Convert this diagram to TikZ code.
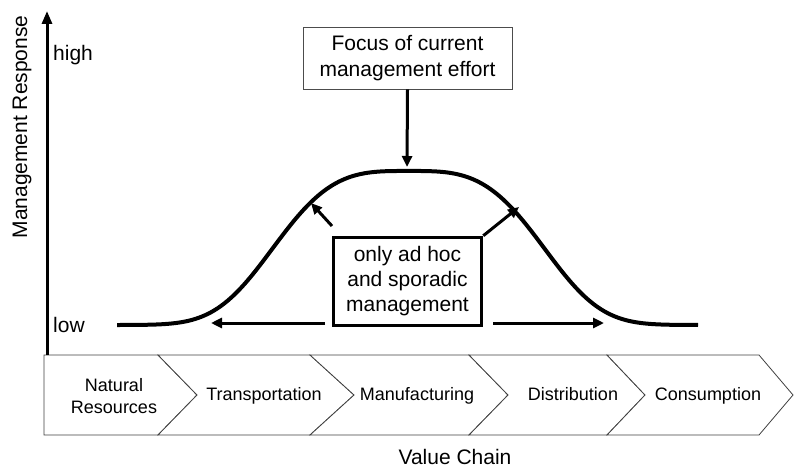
\documentclass[tikz,border=0pt]{standalone}
\usepackage{fontspec}
\setmainfont{Liberation Sans}
\usetikzlibrary{arrows.meta}
\begin{document}
\begin{tikzpicture}[x=1pt,y=-1pt,
  bigtxt/.style={font=\fontsize{21}{26}\selectfont, inner sep=0pt, align=center},
  chainbase/.style={font=\fontsize{18}{22}\selectfont, inner sep=0pt, align=center},
  chaintxt/.style={chainbase, text height=13pt, text depth=4pt},
  chev/.style={draw=black!75, line width=0.8pt, fill=white},
  thickarrow/.style={line width=3pt, -{Triangle[length=11pt,width=10pt]}},
]
\useasboundingbox (0,0) rectangle (794,468);
% value chain chevrons
\draw[chev] (44,355) -- (158,355) -- (197,395) -- (158,435) -- (44,435) -- cycle;
\draw[chev] (158,355) -- (310,355) -- (354,395) -- (310,435) -- (158,435) -- (197,395) -- cycle;
\draw[chev] (310,355) -- (469,355) -- (508,395) -- (469,435) -- (310,435) -- (354,395) -- cycle;
\draw[chev] (469,355) -- (607,355) -- (645,395) -- (607,435) -- (469,435) -- (508,395) -- cycle;
\draw[chev] (607,355) -- (759,355) -- (793,395) -- (759,435) -- (607,435) -- (645,395) -- cycle;
\node[chainbase] (nat) at (114,396) {Natural\\Resources};
\node[chaintxt] (tra) at (264,396) {Transportation};
\node[chaintxt] (man) at (417,396) {Manufacturing};
\node[chaintxt] (dis) at (573,396) {Distribution};
\node[chaintxt] (con) at (708,396) {Consumption};
\node[bigtxt] (vc) at (455,457) {Value Chain};
% axis
\coordinate (axb) at (47,355);
\coordinate (axt) at (47,11);
\draw[line width=3pt, -{Triangle[length=13pt,width=10pt]}] (axb) -- (axt);
\node[bigtxt, rotate=90] (mr) at (22,127) {Management Response};
\node[bigtxt, anchor=west] (hi) at (53,55) {high};
\node[bigtxt, anchor=west] (lo) at (53,325) {low};
% curve
\draw[line width=4pt] plot[domain=117:698, samples=200, smooth]
  (\x, {325-154*exp(-(abs(\x-408.5)/151)^3.4)});
% focus box
\node[bigtxt, draw=black!70, line width=0.8pt, minimum width=209pt, minimum height=62pt] (focus) at (407.5,58) {Focus of current\\management effort};
\coordinate (top) at (407,167);
\draw[thickarrow] (focus.south) -- (top);
% ad hoc box
\node[bigtxt, draw, line width=3.5pt, minimum width=148pt, minimum height=88pt, font=\fontsize{21}{25}\selectfont] (adhoc) at (407.5,281.5) {only ad hoc\\and sporadic\\management};
\coordinate (la) at (311,203);
\coordinate (ra) at (519,207);
\coordinate (lh) at (211,323);
\coordinate (rh) at (604,323);
\draw[thickarrow] (332,226) -- (la);
\draw[thickarrow] (adhoc.north east) -- (ra);
\draw[thickarrow] (325,323) -- (lh);
\draw[thickarrow] (493,323) -- (rh);
\end{tikzpicture}
\end{document}
